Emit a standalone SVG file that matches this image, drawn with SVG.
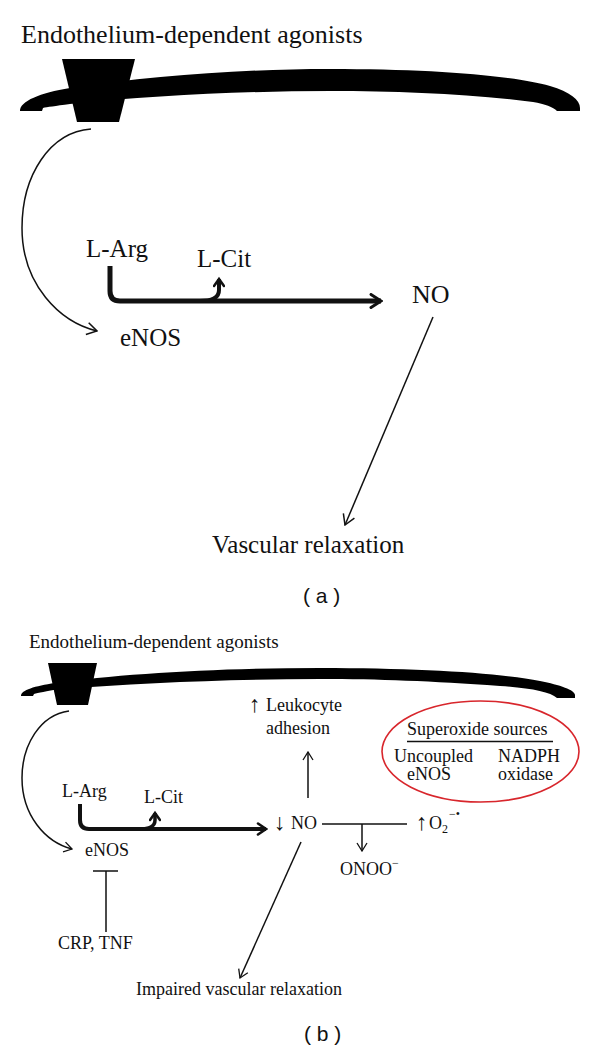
<svg xmlns="http://www.w3.org/2000/svg" width="600" height="1053" viewBox="0 0 600 1053">
<style>
  text { font-family: "Liberation Serif", "DejaVu Serif", serif; fill: #111; }
  .la { font-size: 25px; }
  .lb { font-size: 18px; }
  .arr { font-size: 23px; }
  .cap { font-family: "Liberation Sans", "DejaVu Sans", sans-serif; font-size: 21px; }
  .thin { fill: none; stroke: #111; stroke-width: 1.5; }
  .thick { fill: none; stroke: #111; stroke-linecap: butt; }
  .mem { fill: #000; }
</style>
<defs>
  <marker id="ah" viewBox="0 0 12 14" refX="11" refY="7" markerWidth="12" markerHeight="14" markerUnits="userSpaceOnUse" orient="auto">
    <path d="M1,1 L11,7 L1,13" fill="none" stroke="#111" stroke-width="1.5"/>
  </marker>
  <marker id="ahs" viewBox="0 0 10 12" refX="9" refY="6" markerWidth="10" markerHeight="12" markerUnits="userSpaceOnUse" orient="auto">
    <path d="M1,1 L9,6 L1,11" fill="none" stroke="#111" stroke-width="1.3"/>
  </marker>
  <marker id="ahT" viewBox="0 0 14 16" refX="12" refY="8" markerWidth="14" markerHeight="16" markerUnits="userSpaceOnUse" orient="auto">
    <path d="M2,1.5 L12,8 L2,14.5" fill="none" stroke="#111" stroke-width="3" stroke-linecap="round"/>
  </marker>
  <marker id="ahTb" viewBox="0 0 12 14" refX="10" refY="7" markerWidth="12" markerHeight="14" markerUnits="userSpaceOnUse" orient="auto">
    <path d="M2,1.5 L10,7 L2,12.5" fill="none" stroke="#111" stroke-width="2.6" stroke-linecap="round"/>
  </marker>
  <marker id="ahTs" viewBox="0 0 12 12" refX="9" refY="6" markerWidth="12" markerHeight="12" markerUnits="userSpaceOnUse" orient="auto">
    <path d="M2,1 L9,6 L2,11" fill="none" stroke="#111" stroke-width="2.6" stroke-linecap="round"/>
  </marker>
</defs>
<rect width="600" height="1053" fill="#fff"/>

<!-- Panel (a) -->
<g id="a-title"><text x="21" y="43" style="font-size:26px">Endothelium-dependent agonists</text></g>
<g id="a-membrane">
  <path class="mem" d="M20,111 C20,101 40,93 70,88 C150,76 240,69 330,69 C430,69 510,75 550,86 C570,92 580,100 580,108 L580,111 L557,111 C553,107 545,104 533,102 C470,94 400,91 330,91 C240,91 150,96 70,104 C55,106 47,107 43,108 L42,111 Z"/>
  <polygon class="mem" points="62,59 135,59 119,122 77,122"/>
</g>
<g id="a-larg"><text class="la" x="86" y="257">L-Arg</text></g>
<g id="a-lcit"><text class="la" x="197" y="267">L-Cit</text></g>
<g id="a-enos"><text class="la" x="120" y="346">eNOS</text></g>
<g id="a-no"><text class="la" x="412" y="303" style="font-size:26px">NO</text></g>
<g id="a-vr"><text class="la" x="212" y="553">Vascular relaxation</text></g>
<g id="a-label"><text class="cap" x="303" y="603">( a )</text></g>

<!-- Panel (b) -->
<g id="b-title"><text x="29" y="648" style="font-size:19px">Endothelium-dependent agonists</text></g>
<g id="b-membrane">
  <path class="mem" d="M21,696 C21,690 35,686 55,683 C120,674 220,668 320,668 C420,668 500,673 540,681 C560,685 575,690 575,695 L575,698 L557,698 C550,692 530,688 500,686 C430,681 380,679 320,679 C230,679 140,683 60,689 C46,691 38,693 34,694 L33,696 Z"/>
  <polygon class="mem" points="48,663 97,663 88,705 57,705"/>
</g>
<g id="b-leuko">
  <text class="lb" x="249" y="712"><tspan class="arr">↑</tspan><tspan x="266" y="711">Leukocyte</tspan></text>
  <text class="lb" x="266" y="734">adhesion</text>
</g>
<g id="b-superoxide">
  <ellipse cx="480.5" cy="751.5" rx="98.5" ry="50.5" fill="none" stroke="#d8262c" stroke-width="1.6"/>
  <text class="lb" x="407" y="735">Superoxide sources</text>
  <line x1="407" y1="741.5" x2="553" y2="741.5" stroke="#111" stroke-width="1.3"/>
  <text class="lb" x="394" y="762">Uncoupled</text>
  <text class="lb" x="407" y="780">eNOS</text>
  <text class="lb" x="498" y="762">NADPH</text>
  <text class="lb" x="498" y="780">oxidase</text>
</g>
<g id="b-larg"><text class="lb" x="62" y="797">L-Arg</text></g>
<g id="b-lcit"><text class="lb" x="144" y="803">L-Cit</text></g>
<g id="b-enos"><text class="lb" x="85" y="856">eNOS</text></g>
<g id="b-no"><text class="lb" x="274" y="830"><tspan class="arr">↓</tspan><tspan x="291" y="829">NO</tspan></text></g>
<g id="b-o2"><text class="lb" x="416" y="830"><tspan class="arr">↑</tspan><tspan x="429" y="829">O</tspan><tspan x="442" y="833" style="font-size:12px">2</tspan><tspan x="449" y="818" style="font-size:12px">−•</tspan></text></g>
<g id="b-onoo"><text class="lb" x="340" y="875">ONOO<tspan dy="-8" style="font-size:12px">−</tspan></text></g>
<g id="b-crp"><text class="lb" x="58" y="949">CRP, TNF</text></g>
<g id="b-ivr"><text class="lb" x="136" y="995">Impaired vascular relaxation</text></g>
<g id="b-label"><text class="cap" x="304" y="1041">( b )</text></g>

<!-- Connectors -->
<g id="connectors">
  <!-- (a) -->
  <path class="thin" d="M91,129 C50,132 22,175 22,228 C22,285 60,322 97,331" marker-end="url(#ah)"/>
  <path class="thick" stroke-width="5" d="M110,266 V291 Q110,301 120,301 H381" marker-end="url(#ahT)"/>
  <path class="thick" stroke-width="4" d="M200,301 Q219,301 219,290 V279" marker-end="url(#ahTs)"/>
  <line class="thin" x1="433" y1="317" x2="345" y2="525" marker-end="url(#ah)"/>
  <!-- (b) -->
  <path class="thin" stroke-width="1.3" d="M69,711 C40,715 22,745 22,778 C22,815 45,842 72,849" marker-end="url(#ahs)"/>
  <path class="thick" stroke-width="4" d="M80,804 V820 Q80,829 89,829 H266" marker-end="url(#ahTb)"/>
  <path class="thick" stroke-width="3.5" d="M140,829 Q155,829 155,820 V813" marker-end="url(#ahTs)"/>
  <line class="thin" stroke-width="1.3" x1="308" y1="798" x2="308" y2="752" marker-end="url(#ahs)"/>
  <line class="thin" stroke-width="1.3" x1="322" y1="824" x2="407" y2="824"/>
  <line class="thin" stroke-width="1.3" x1="362" y1="824" x2="362" y2="851" marker-end="url(#ahs)"/>
  <line class="thin" stroke-width="1.3" x1="301" y1="842" x2="240" y2="978" marker-end="url(#ahs)"/>
  <path class="thin" stroke-width="1.3" d="M93,871 H118 M106,871 V932"/>
</g>
</svg>
